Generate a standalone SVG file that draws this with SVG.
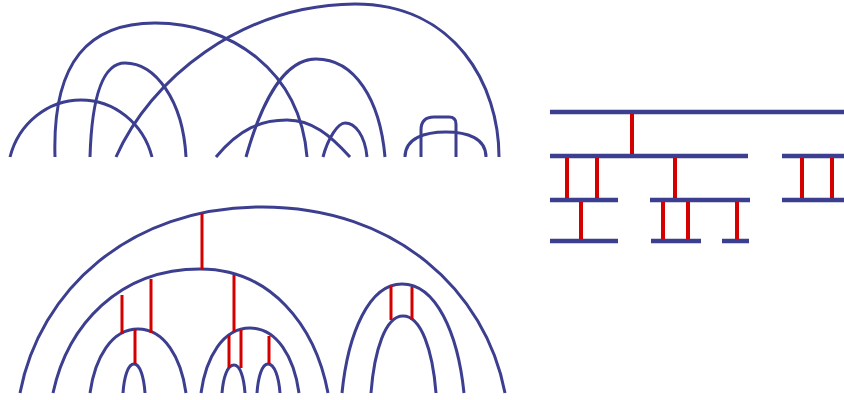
<svg xmlns="http://www.w3.org/2000/svg" width="844" height="400" viewBox="0 0 844 400">
<style>
.b{fill:none;stroke:#3c3e90;stroke-width:3;stroke-linecap:butt}
.r{fill:none;stroke:#d40000;stroke-width:3}
.bar{fill:none;stroke:#3c3e90;stroke-width:4.5}
.rb{fill:none;stroke:#d40000;stroke-width:4}
</style>
<rect width="844" height="400" fill="#fff"/>
<g id="top-arcs">
<path class="b" d="M10,157 A73.5,77 0 0 1 152,157"/>
<path class="b" d="M55,157 C52,60 90,23 155,23 C230,23 300,70 307,157"/>
<path class="b" d="M90,157 C92,90 105,63 125,63 C155,63 183,100 186,157"/>
<path class="b" d="M116,157 C150,80 240,5 355,4 C455,4 499,85 499,157"/>
<path class="b" d="M216,157 C240,128 262,120 287,120 C312,120 330,135 350,157"/>
<path class="b" d="M246,157 C262,100 285,59 316,59 C355,59 380,100 385,157"/>
<path class="b" d="M323,157 C328,138 338,123 345,123 C355,123 365,135 367,157"/>
<path class="b" d="M405,157 C405,138 425,132 446,132 C467,132 486,138 486,157"/>
<path class="b" d="M421,157 L421,130 Q421,117 434,117 L449,117 Q456,117 456,124 L456,157"/>
</g>
<g id="bottom-arcs">
<path class="b" d="M20,393 C39.4,290.7 128.9,207 262,207 C395.6,207 485.6,290.7 505,393"/>
<path class="b" d="M53,393 C67.7,324.8 119.1,269 200,269 C270.4,269 315.2,324.8 328,393"/>
<path class="b" d="M90,393 C94.8,357.8 111.5,329 138,329 C164.5,329 181.2,357.8 186,393"/>
<path class="b" d="M123,393 C124.1,377 128,364 134,364 C140,364 143.9,377 145,393"/>
<path class="b" d="M201,393 C205.9,357.2 223,328 250,328 C277,328 294.1,357.2 299,393"/>
<path class="b" d="M222,393 C223.2,377.6 227.4,365 234,365 C240.1,365 243.9,377.6 245,393"/>
<path class="b" d="M257,393 C258.1,377 262,364 268,364 C274.6,364 278.8,377 280,393"/>
<path class="b" d="M342,393 C348,333 369,284 402,284 C436.1,284 457.8,333 464,393"/>
<path class="b" d="M371,393 C374.2,350.6 385.4,316 403,316 C421.2,316 432.7,350.6 436,393"/>
</g>
<g id="bottom-rungs">
<path class="r" d="M202,213V270 M122,295V334 M151,279V333 M135,329V364 M234,275V332 M229,335V368 M241,330V368 M269,336V364 M391,286V320 M412,287V320"/>
</g>
<g id="bars">
<path class="bar" d="M550,112H844 M550,156H748 M782,156H844 M550,200H618 M650,200H750 M782,200H844 M550,241H618 M651,241H701 M722,241H749"/>
</g>
<g id="bar-rungs">
<path class="rb" d="M632,114V154 M567,158V198 M597,158V198 M675,158V198 M802,158V198 M832,158V198 M581,202V239 M663,202V239 M688,202V239 M737,202V239"/>
</g>
</svg>
